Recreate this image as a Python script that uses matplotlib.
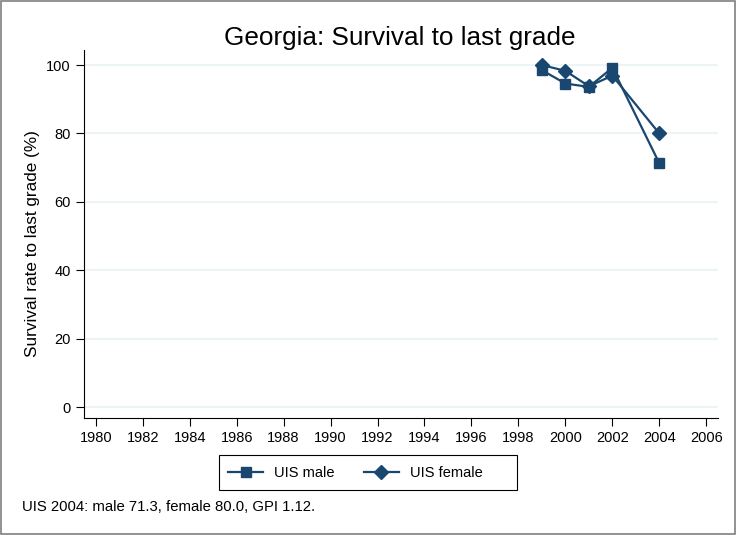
import matplotlib
matplotlib.use("Agg")
import matplotlib.pyplot as plt
from matplotlib.patches import Rectangle
from matplotlib.lines import Line2D

plt.rcParams['font.family'] = ['Liberation Sans', 'DejaVu Sans']

years_male = [1999, 2000, 2001, 2002, 2004]
male = [98.5, 94.6, 93.6, 99.2, 71.3]
years_female = [1999, 2000, 2001, 2002, 2004]
female = [100.0, 98.3, 93.8, 96.9, 80.0]
xticks = list(range(1980, 2007, 2))
yticks = [0, 20, 40, 60, 80, 100]

color = '#1a476f'

fig = plt.figure(figsize=(7.36, 5.35), dpi=100)
fig.patch.set_facecolor('white')
fig.add_artist(Rectangle((0.002, 0.002), 0.996, 0.996, transform=fig.transFigure,
                         fill=False, edgecolor='#7f7f7f', linewidth=1.2))

ax = fig.add_axes([84/736, 1-418/535, (718-84)/736, (418-50)/535])
ax.plot(years_male, male, color=color, marker='s', markersize=7, linewidth=1.6, label='UIS male')
ax.plot(years_female, female, color=color, marker='D', markersize=7, linewidth=1.6, label='UIS female')

ax.set_xlim(1979.5, 2006.5)
ax.set_ylim(-3.2, 104.4)
ax.set_xticks(xticks)
ax.set_yticks(yticks)
ax.tick_params(axis='both', labelsize=10.5, length=5.5, width=0.8, color='black', direction='out', pad=4)
ax.grid(axis='y', color='#eaf2f3', linewidth=1.2)
ax.set_axisbelow(True)
for s in ['top', 'right']:
    ax.spines[s].set_visible(False)
for s in ['left', 'bottom']:
    ax.spines[s].set_linewidth(0.8)
ax.set_ylabel('Survival rate to last grade (%)', fontsize=12.3, va='center')
ax.yaxis.set_label_coords((33-84)/634, (418-244)/368)

fig.text(400/736, 1-38/535, 'Georgia: Survival to last grade', ha='center', va='center', fontsize=18.8)

handles = [Line2D([], [], color=color, marker='s', markersize=7, linewidth=1.6),
           Line2D([], [], color=color, marker='D', markersize=7, linewidth=1.6)]
fig.add_artist(Rectangle((219/736, 1-490/535), (517-219)/736, 35/535, transform=fig.transFigure,
                         fill=False, edgecolor='black', linewidth=0.8))
leg = fig.legend(handles, ['UIS male', 'UIS female'], loc='center left',
                 bbox_to_anchor=(228/736, 1-473/535),
                 ncol=2, frameon=False, fontsize=10.5, handlelength=2.4, handletextpad=0.75,
                 columnspacing=2.0, borderpad=0, borderaxespad=0)

fig.text(22/736, 1-507/535, 'UIS 2004: male 71.3, female 80.0, GPI 1.12.', ha='left', va='center', fontsize=10.7)

fig.savefig('out.png', dpi=100)
